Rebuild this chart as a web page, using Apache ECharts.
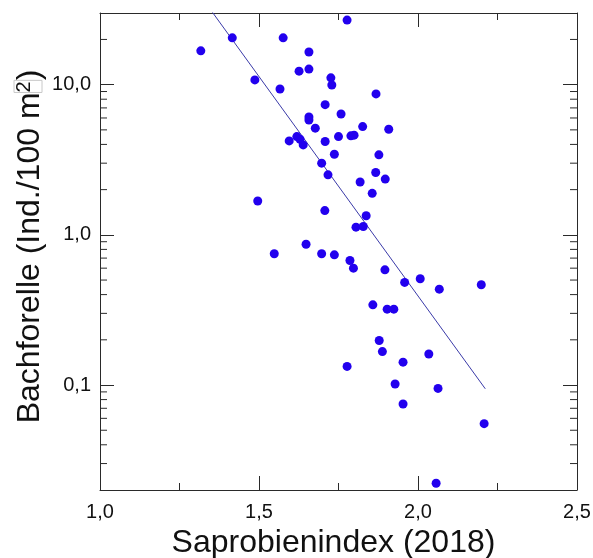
<!DOCTYPE html>
<html><head><meta charset="utf-8">
<script src="https://cdn.jsdelivr.net/npm/echarts@6/dist/echarts.min.js"></script>
<style>html,body{margin:0;padding:0;background:#fff}#c{width:593px;height:558px}</style>
</head><body><div id="c"></div>
<script>
// Saprobienindex (x) and Bachforelle density (y, Ind./100 m²)
const saprobienindex = [
  1.317, 1.416, 1.576, 1.657, 1.626, 1.657, 1.487, 1.566, 1.726, 1.729,
  1.708, 1.758, 1.657, 1.657, 1.677, 1.595, 1.619, 1.629, 1.639, 1.708,
  1.750, 1.737, 1.697, 1.717, 1.496, 1.707, 1.648, 1.777, 1.868, 1.826,
  1.908, 1.789, 1.799, 1.877, 1.867, 1.897, 1.818, 1.856, 1.837, 1.805,
  1.828, 1.548, 1.697, 1.737, 1.786, 1.797, 1.896, 1.958, 2.007, 2.067,
  2.199, 1.858, 1.903, 1.924, 1.878, 1.888, 2.034, 1.777, 1.953, 1.928,
  2.063, 1.953, 2.208, 2.057
];
const bachforelle = [
  16.8, 20.5, 20.5, 16.5, 12.3, 12.7, 10.75, 9.36, 11.1, 9.95,
  7.36, 6.38, 6.10, 5.82, 5.13, 4.22, 4.51, 4.33, 3.97, 4.18,
  4.51, 3.44, 3.00, 2.51, 1.68, 1.45, 0.865, 26.9, 8.68, 5.26,
  5.05, 4.56, 4.61, 3.41, 2.60, 2.35, 2.25, 1.89, 1.34, 1.125,
  1.136, 0.748, 0.748, 0.736, 0.675, 0.600, 0.585, 0.482, 0.510, 0.435,
  0.465, 0.342, 0.320, 0.320, 0.198, 0.167, 0.161, 0.133, 0.142, 0.1016,
  0.0949, 0.0747, 0.0553, 0.0222
];
// regression line end points
const fitX = [1.317, 2.2116];
const fitY = [38.8, 0.0944];

const xTickLabels = {'1': '1,0', '1.5': '1,5', '2': '2,0', '2.5': '2,5'};
const yTickLabels = {'0.1': '0,1', '1': '1,0', '10': '10,0'};
const yMin = 0.02, yMax = 30;
const xMin = 1.0, xMax = 2.5, xStep = 0.5;

// minor ticks on the log axis: 2..9 x each decade
const yMinorTicks = [];
for (const dec of [0.01, 0.1, 1, 10]) {
  for (let m = 2; m <= 9; m++) {
    const v = Number((m * dec).toPrecision(6));
    if (v > yMin && v < yMax) yMinorTicks.push(v);
  }
}

const FONT = 'Liberation Sans, Arial, sans-serif';
const AX = '#2a2a2a';

const chart = echarts.init(document.getElementById('c'), null, {renderer: 'canvas'});
const scatterData = saprobienindex.map((x, i) => [x, bachforelle[i]]);
const fitData = fitX.map((x, i) => [x, fitY[i]]);

const xCommon = {
  type: 'value', min: xMin, max: xMax, interval: xStep,
  axisLine: {show: true, lineStyle: {color: AX, width: 1}},
  axisTick: {show: true, inside: true, length: 14, lineStyle: {color: AX}},
  minorTick: {show: true, splitNumber: 2, length: 7, lineStyle: {color: AX}},
  splitLine: {show: false}, minorSplitLine: {show: false}
};
const yCommon = {
  type: 'log', logBase: 10, min: yMin, max: yMax,
  axisLine: {show: true, lineStyle: {color: AX, width: 1}},
  axisTick: {show: true, inside: true, length: 14, lineStyle: {color: AX}},
  splitLine: {show: false}
};

chart.setOption({
  animation: false,
  backgroundColor: '#fff',
  grid: {left: 100, right: 16, top: 13, bottom: 68, containLabel: false, outerBoundsMode: 'none'},
  xAxis: [
    Object.assign({}, xCommon, {
      position: 'bottom',
      name: 'Saprobienindex (2018)', nameLocation: 'middle', nameGap: 33,
      nameTextStyle: {fontFamily: FONT, fontSize: 32, color: '#111', padding: [0, 10, 0, 0]},
      axisLabel: {
        fontFamily: FONT, fontSize: 20, color: '#111', margin: 12,
        formatter: v => xTickLabels[String(Number(v.toFixed(4)))] || ''
      }
    }),
    Object.assign({}, xCommon, {position: 'top', axisLabel: {show: false}})
  ],
  yAxis: [
    Object.assign({}, yCommon, {
      position: 'left',
      name: '{a|Bachforelle (Ind./100 m}{s|2}{a|)}',
      nameLocation: 'middle', nameGap: 54, nameMoveOverlap: false,
      nameTextStyle: {
        fontFamily: FONT, color: '#111', padding: [0, 0, 0, 10],
        rich: {
          a: {fontFamily: FONT, fontSize: 32, color: '#111', verticalAlign: 'bottom'},
          s: {fontFamily: FONT, fontSize: 20, color: '#111', verticalAlign: 'top',
              borderColor: '#c8c8c8', borderWidth: 1, padding: [0, 1, 8, 0]}
        }
      },
      axisLabel: {
        fontFamily: FONT, fontSize: 20, color: '#111', margin: 9,
        formatter: v => yTickLabels[String(Number(Number(v).toPrecision(6)))] || ''
      }
    }),
    Object.assign({}, yCommon, {position: 'right', axisLabel: {show: false}})
  ],
  series: [
    {
      type: 'custom', xAxisIndex: 0, yAxisIndex: 0, silent: true, clip: false, z: 1,
      data: yMinorTicks.map(v => [xMin, v]),
      encode: {x: 0, y: 1},
      renderItem: (params, api) => {
        const cs = params.coordSys;
        const y = api.coord([api.value(0), api.value(1)])[1];
        return {
          type: 'group', children: [
            {type: 'line', shape: {x1: cs.x, y1: y, x2: cs.x + 7, y2: y}, style: {stroke: AX, lineWidth: 1}},
            {type: 'line', shape: {x1: cs.x + cs.width - 7, y1: y, x2: cs.x + cs.width, y2: y}, style: {stroke: AX, lineWidth: 1}}
          ]
        };
      }
    },
    {
      type: 'line', data: fitData, xAxisIndex: 0, yAxisIndex: 0, clip: true,
      showSymbol: false, symbol: 'none', z: 2,
      lineStyle: {color: '#3a3aa8', width: 1}
    },
    {
      type: 'scatter', data: scatterData, xAxisIndex: 0, yAxisIndex: 0, z: 3,
      symbol: 'circle', symbolSize: 9,
      itemStyle: {color: '#2200ee', opacity: 1}
    }
  ]
});
</script>
</body></html>
